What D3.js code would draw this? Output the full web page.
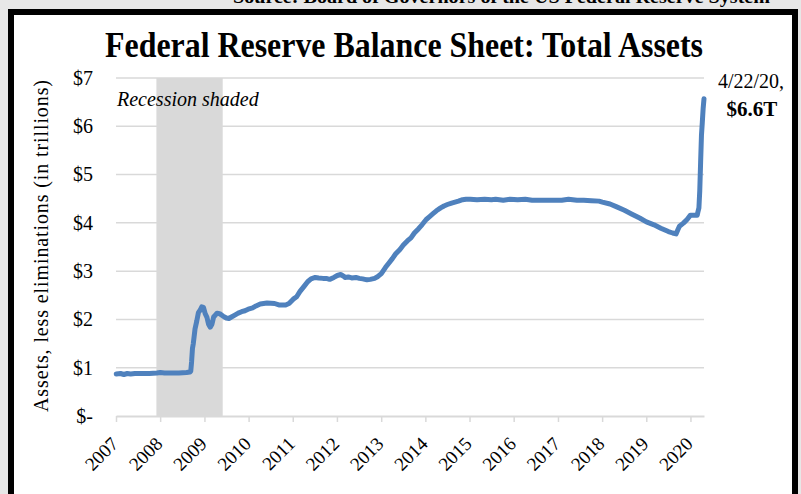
<!DOCTYPE html>
<html>
<head>
<meta charset="utf-8">
<script src="https://cdn.jsdelivr.net/npm/d3@7"></script>
<style>
  body { margin: 0; background: #e7e7e7; }
  svg { display: block; }
</style>
</head>
<body>
<div id="chart"></div>
<script>
// Weekly-ish readings of Fed total assets, trillions of dollars
const dates = [
  "2007-01-03","2007-02-07","2007-03-07","2007-04-04","2007-05-02","2007-06-06","2007-08-01","2007-10-03","2007-12-05",
  "2008-01-02","2008-02-06","2008-04-02","2008-06-04","2008-08-06","2008-09-03","2008-09-10","2008-09-17","2008-09-24",
  "2008-10-01","2008-10-15","2008-10-29","2008-11-12","2008-11-26","2008-12-10","2008-12-24",
  "2009-01-07","2009-01-21","2009-02-04","2009-02-18","2009-03-04","2009-03-18","2009-04-01","2009-04-15","2009-05-06",
  "2009-06-03","2009-07-01","2009-07-22","2009-08-12","2009-09-09","2009-10-07","2009-11-04","2009-12-02",
  "2010-01-06","2010-02-03","2010-03-03","2010-04-07","2010-05-05","2010-06-02","2010-08-04","2010-09-08","2010-10-06",
  "2010-11-03","2010-12-01",
  "2011-01-05","2011-02-02","2011-03-02","2011-04-06","2011-05-04","2011-06-01","2011-07-06","2011-08-03","2011-09-07",
  "2011-10-05","2011-11-02","2011-12-07",
  "2012-01-04","2012-02-01","2012-02-22","2012-03-07","2012-04-04","2012-05-02","2012-06-06","2012-07-04","2012-08-01",
  "2012-09-05","2012-10-03","2012-11-07","2012-12-05",
  "2013-01-02","2013-02-06","2013-03-06","2013-04-03","2013-05-01","2013-06-05","2013-07-03","2013-08-07","2013-09-04",
  "2013-10-02","2013-11-06","2013-12-04",
  "2014-01-08","2014-02-05","2014-03-05","2014-04-02","2014-05-07","2014-06-04","2014-07-02","2014-08-06","2014-09-03",
  "2014-10-01","2014-11-05","2014-12-03",
  "2015-01-07","2015-03-04","2015-05-06","2015-07-01","2015-08-05","2015-10-07","2015-12-02",
  "2016-02-03","2016-04-06","2016-06-01","2016-08-03","2016-10-05","2016-12-07",
  "2017-02-01","2017-03-29","2017-06-07","2017-08-02","2017-10-04","2017-12-06",
  "2018-01-03","2018-03-07","2018-05-02","2018-07-04","2018-09-05","2018-11-07",
  "2019-01-02","2019-03-06","2019-05-01","2019-07-03","2019-08-07","2019-09-04","2019-09-18","2019-10-02","2019-11-06",
  "2019-12-04",
  "2020-01-01","2020-01-29","2020-02-26","2020-03-04","2020-03-11","2020-03-18","2020-03-25","2020-04-01","2020-04-08",
  "2020-04-15","2020-04-22"
];
const assets = [
  0.87,0.88,0.86,0.88,0.87,0.88,0.88,0.88,0.89,
  0.90,0.89,0.89,0.89,0.90,0.91,0.93,1.13,1.40,
  1.50,1.80,1.96,2.14,2.19,2.26,2.25,
  2.12,2.05,1.90,1.84,1.90,2.05,2.09,2.13,2.12,
  2.07,2.03,2.02,2.05,2.09,2.13,2.16,2.18,
  2.22,2.24,2.28,2.32,2.33,2.34,2.33,2.30,2.30,
  2.30,2.33,
  2.42,2.47,2.58,2.69,2.78,2.84,2.87,2.86,2.85,
  2.85,2.83,2.87,
  2.91,2.93,2.90,2.87,2.88,2.86,2.87,2.85,2.84,
  2.82,2.83,2.85,2.89,
  2.95,3.08,3.17,3.26,3.36,3.45,3.54,3.63,3.69,
  3.79,3.88,3.96,
  4.07,4.13,4.19,4.25,4.31,4.35,4.38,4.41,4.43,
  4.45,4.48,4.49,
  4.49,4.48,4.49,4.48,4.49,4.47,4.49,
  4.48,4.49,4.47,4.47,4.47,4.47,
  4.47,4.49,4.47,4.47,4.46,4.45,
  4.43,4.39,4.33,4.26,4.18,4.10,
  4.02,3.96,3.89,3.82,3.79,3.77,3.85,3.93,4.00,
  4.07,
  4.16,4.16,4.16,4.24,4.31,4.67,5.25,5.81,6.08,
  6.37,6.57
];
const yTicks = [0, 1, 2, 3, 4, 5, 6, 7];
const yTickLabels = ["$-", "$1", "$2", "$3", "$4", "$5", "$6", "$7"];
const xTickYears = [2007, 2008, 2009, 2010, 2011, 2012, 2013, 2014, 2015, 2016, 2017, 2018, 2019, 2020];
const recession = ["2007-12-01", "2009-06-01"];
const lastLabel = ["4/22/20,", "$6.6T"];

const width = 801;
const height = 494;
const plotLeft = 116, plotRight = 704, plotTop = 78, plotBottom = 416;
const serif = "'Liberation Serif', 'Times New Roman', serif";

const parse = d3.timeParse("%Y-%m-%d");
const series = dates.map((d, i) => ({ date: parse(d), value: assets[i] }));

const xScale = d3
  .scaleTime()
  .domain([parse("2007-01-01"), parse("2020-04-22")])
  .range([plotLeft, plotRight]);

const yScale = d3.scaleLinear().domain([0, 7]).range([plotBottom, plotTop]);

const svg = d3
  .select("#chart")
  .append("svg")
  .attr("width", width)
  .attr("height", height);

// frame
svg.append("rect")
  .attr("x", 0).attr("y", 0).attr("width", width).attr("height", height)
  .attr("fill", "#e7e7e7");
svg.append("rect")
  .attr("x", 11).attr("y", 12).attr("width", 784).attr("height", 520)
  .attr("fill", "#ffffff")
  .attr("stroke", "#000")
  .attr("stroke-width", 6);

// source line, cut off at the top
svg.append("text")
  .attr("x", 233).attr("y", 3)
  .style("font-family", serif)
  .style("font-size", "18px")
  .style("font-weight", "bold")
  .attr("textLength", 537)
  .attr("lengthAdjust", "spacingAndGlyphs")
  .text("Source: Board of Governors of the US Federal Reserve System");

svg.append("text")
  .attr("x", 105).attr("y", 57)
  .style("font-family", serif)
  .style("font-size", "35px")
  .style("font-weight", "bold")
  .attr("textLength", 598)
  .attr("lengthAdjust", "spacingAndGlyphs")
  .text("Federal Reserve Balance Sheet: Total Assets");

// recession shading
svg.append("rect")
  .attr("x", xScale(parse(recession[0])))
  .attr("y", plotTop)
  .attr("width", xScale(parse(recession[1])) - xScale(parse(recession[0])))
  .attr("height", plotBottom - plotTop)
  .attr("fill", "#d9d9d9");

// gridlines
svg.append("g")
  .selectAll("line")
  .data(yTicks.slice(1))
  .enter()
  .append("line")
  .attr("x1", plotLeft).attr("x2", plotRight)
  .attr("y1", (d) => yScale(d)).attr("y2", (d) => yScale(d))
  .attr("stroke", "#d9d9d9")
  .attr("stroke-width", 1.5);

// x axis
const xAxis = d3
  .axisBottom(xScale)
  .tickValues(xTickYears.map((y) => new Date(y, 0, 1)))
  .tickFormat(d3.timeFormat("%Y"))
  .tickSize(6)
  .tickSizeOuter(0);

const gx = svg.append("g")
  .attr("id", "x-axis")
  .attr("transform", "translate(0," + plotBottom + ")")
  .call(xAxis);
gx.select(".domain").attr("stroke", "#d9d9d9").attr("stroke-width", 2);
gx.selectAll(".tick line").attr("stroke", "#d9d9d9").attr("stroke-width", 1.5);
gx.selectAll(".tick text")
  .style("font-family", serif)
  .style("font-size", "19px")
  .attr("fill", "#000")
  .attr("text-anchor", "end")
  .attr("transform", "translate(3,29) rotate(-45)")
  .attr("dy", 0)
  .attr("y", 0)
  .attr("x", 0);

// y axis
const yAxis = d3
  .axisLeft(yScale)
  .tickValues(yTicks)
  .tickFormat((d, i) => yTickLabels[i])
  .tickSize(0)
  .tickPadding(23);

const gy = svg.append("g")
  .attr("id", "y-axis")
  .attr("transform", "translate(" + plotLeft + ",0)")
  .call(yAxis);
gy.select(".domain").remove();
gy.selectAll(".tick text")
  .style("font-family", serif)
  .style("font-size", "20px")
  .attr("fill", "#000");

svg.append("text")
  .attr("transform", "translate(48,246) rotate(-90)")
  .attr("text-anchor", "middle")
  .style("font-family", serif)
  .style("font-size", "20px")
  .attr("textLength", 332)
  .attr("lengthAdjust", "spacing")
  .text("Assets, less eliminations (in trillions)");

svg.append("text")
  .attr("x", plotLeft + 1).attr("y", 106)
  .style("font-family", serif)
  .style("font-size", "20px")
  .style("font-style", "italic")
  .text("Recession shaded");

// the series
const line = d3
  .line()
  .x((d) => xScale(d.date))
  .y((d) => yScale(d.value));

svg.append("path")
  .datum(series)
  .attr("fill", "none")
  .attr("stroke", "#4f81bd")
  .attr("stroke-width", 5)
  .attr("stroke-linejoin", "round")
  .attr("stroke-linecap", "round")
  .attr("d", line);

svg.append("text")
  .attr("x", 751).attr("y", 88)
  .attr("text-anchor", "middle")
  .style("font-family", serif)
  .style("font-size", "20px")
  .text(lastLabel[0]);
svg.append("text")
  .attr("x", 752).attr("y", 116)
  .attr("text-anchor", "middle")
  .style("font-family", serif)
  .style("font-size", "21px")
  .style("font-weight", "bold")
  .text(lastLabel[1]);
</script>
</body>
</html>
